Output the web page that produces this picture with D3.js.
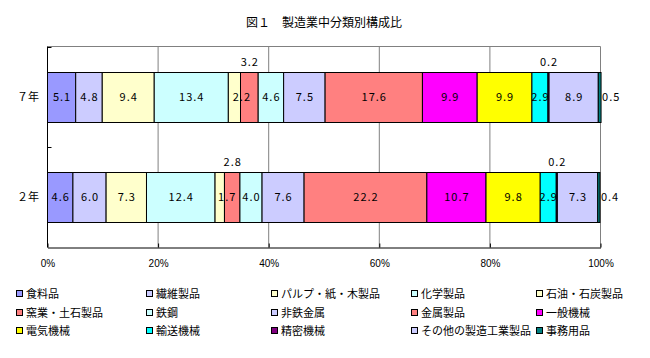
<!DOCTYPE html>
<html>
<head>
<meta charset="utf-8">
<script src="https://cdn.jsdelivr.net/npm/d3@7"></script>
<style>
  body { margin: 0; background: #fff; }
  svg text { font-family: "Noto Sans CJK JP", "DejaVu Sans", sans-serif; fill: #000; }
</style>
</head>
<body>
<div id="chart"></div>
<script>
// Data
const years = ['７年', '２年'];
const industries = [
    '食料品', '繊維製品', 'パルプ・紙・木製品', '化学製品', '石油・石炭製品',
    '窯業・土石製品', '鉄鋼', '非鉄金属', '金属製品', '一般機械',
    '電気機械', '輸送機械', '精密機械', 'その他の製造工業製品', '事務用品'
];
const valuesY7 = [5.1, 4.8, 9.4, 13.4, 2.2, 3.2, 4.6, 7.5, 17.6, 9.9, 9.9, 2.9, 0.2, 8.9, 0.5];
const valuesY2 = [4.6, 6.0, 7.3, 12.4, 1.7, 2.8, 4.0, 7.6, 22.2, 10.7, 9.8, 2.9, 0.2, 7.3, 0.4];
const xTicks = [0, 20, 40, 60, 80, 100];
const title = '図１　製造業中分類別構成比';

// Styles
const colors = [
    '#9999FF', '#CCCCFF', '#FFFFCC', '#CCFFFF', '#FFFFCC',
    '#FF8080', '#CCFFFF', '#CCCCFF', '#FF8080', '#FF00FF',
    '#FFFF00', '#00FFFF', '#800080', '#CCCCFF', '#008080'
];
// label placement tweaks as on the original chart
const labelAbove = new Set(['窯業・土石製品', '精密機械']);
const labelRight = new Set(['事務用品']);
const labelShift = { '石油・石炭製品': 7 };

const width = 650, height = 358;
const plot = { left: 47.5, right: 600.5, top: 46.5, bottom: 247.5 };

const svg = d3.select('#chart').append('svg')
    .attr('width', width)
    .attr('height', height);

// Title
svg.append('text')
    .attr('x', 324)
    .attr('y', 27)
    .attr('text-anchor', 'middle')
    .attr('font-size', 12)
    .text(title);

const x = d3.scaleLinear().domain([0, 100]).range([plot.left, plot.right]);
const y = d3.scaleBand().domain(years)
    .range([plot.top, plot.bottom])
    .paddingInner(0.5)
    .paddingOuter(0.25);

// Gridlines + frame (top/right gray)
svg.append('g')
    .selectAll('line')
    .data(xTicks.slice(1))
    .join('line')
    .attr('x1', d => x(d)).attr('x2', d => x(d))
    .attr('y1', plot.top).attr('y2', plot.bottom)
    .attr('stroke', '#808080');
svg.append('line')
    .attr('x1', plot.left).attr('x2', plot.right)
    .attr('y1', plot.top).attr('y2', plot.top)
    .attr('stroke', '#808080');

// Stacked bars
const rows = years.map((yr, i) => {
    const vals = i === 0 ? valuesY7 : valuesY2;
    let acc = 0;
    return vals.map((v, j) => {
        const seg = { year: yr, name: industries[j], value: v, x0: acc, x1: acc + v, color: colors[j] };
        acc += v;
        return seg;
    });
});
const segments = rows.flat();

svg.append('g')
    .selectAll('rect')
    .data(segments)
    .join('rect')
    .attr('x', d => x(d.x0))
    .attr('y', d => Math.round(y(d.year)) + 0.5)
    .attr('width', d => x(d.x1) - x(d.x0))
    .attr('height', Math.round(y.bandwidth()))
    .attr('fill', d => d.color)
    .attr('stroke', '#000')
    .attr('stroke-width', 1);

// Value labels (spaced out like the original bitmap font)
svg.append('g')
    .selectAll('text')
    .data(segments)
    .join('text')
    .attr('font-size', 11)
    .attr('letter-spacing', 1)
    .attr('text-anchor', d => labelRight.has(d.name) ? 'start' : 'middle')
    .attr('x', d => {
        if (labelRight.has(d.name)) return x(d.x1) + 1;
        return x((d.x0 + d.x1) / 2) + (labelShift[d.name] || 0) + 0.5;
    })
    .attr('y', d => {
        const mid = y(d.year) + y.bandwidth() / 2;
        return labelAbove.has(d.name) ? y(d.year) - 10 : mid;
    })
    .attr('dy', '0.36em')
    .text(d => d.value.toFixed(1));

// Left axis (black) with inward ticks
svg.append('line')
    .attr('x1', plot.left).attr('x2', plot.left)
    .attr('y1', plot.top).attr('y2', plot.bottom)
    .attr('stroke', '#000');
const catBounds = [plot.top, y(years[1]) - y.step() * y.paddingInner() / 2];
svg.append('g')
    .selectAll('line')
    .data(catBounds)
    .join('line')
    .attr('x1', plot.left).attr('x2', plot.left + 4)
    .attr('y1', d => Math.round(d) + 0.5).attr('y2', d => Math.round(d) + 0.5)
    .attr('stroke', '#000');

// Category labels
svg.append('g')
    .selectAll('text')
    .data(years)
    .join('text')
    .attr('x', 39)
    .attr('y', d => y(d) + y.bandwidth() / 2)
    .attr('dy', '0.36em')
    .attr('text-anchor', 'end')
    .attr('font-size', 11)
    .text(d => d);

// Bottom axis
const xAxis = d3.axisBottom(x)
    .tickValues(xTicks)
    .tickFormat(d => d + '%')
    .tickSizeInner(-4)
    .tickSizeOuter(0)
    .tickPadding(12);
const gx = svg.append('g')
    .attr('transform', `translate(0,${plot.bottom})`)
    .call(xAxis);
gx.select('.domain').attr('stroke', '#000');
gx.selectAll('.tick line').attr('stroke', '#000');
gx.selectAll('.tick text')
    .attr('font-size', 10)
    .style('font-family', '"Liberation Sans", Arial, sans-serif');

// Legend
const legendCols = [19, 149, 274, 414, 539];
const legendRows = [294, 313, 331];
const legend = svg.append('g')
    .selectAll('g')
    .data(industries)
    .join('g')
    .attr('transform', (d, i) => `translate(${legendCols[i % 5]},${legendRows[Math.floor(i / 5)]})`);
legend.append('rect')
    .attr('x', -2.5).attr('y', -3.5)
    .attr('width', 6).attr('height', 6)
    .attr('fill', (d, i) => colors[i])
    .attr('stroke', '#000');
legend.append('text')
    .attr('x', 7)
    .attr('y', 0)
    .attr('dy', '0.36em')
    .attr('font-size', 11)
    .text(d => d);
</script>
</body>
</html>
